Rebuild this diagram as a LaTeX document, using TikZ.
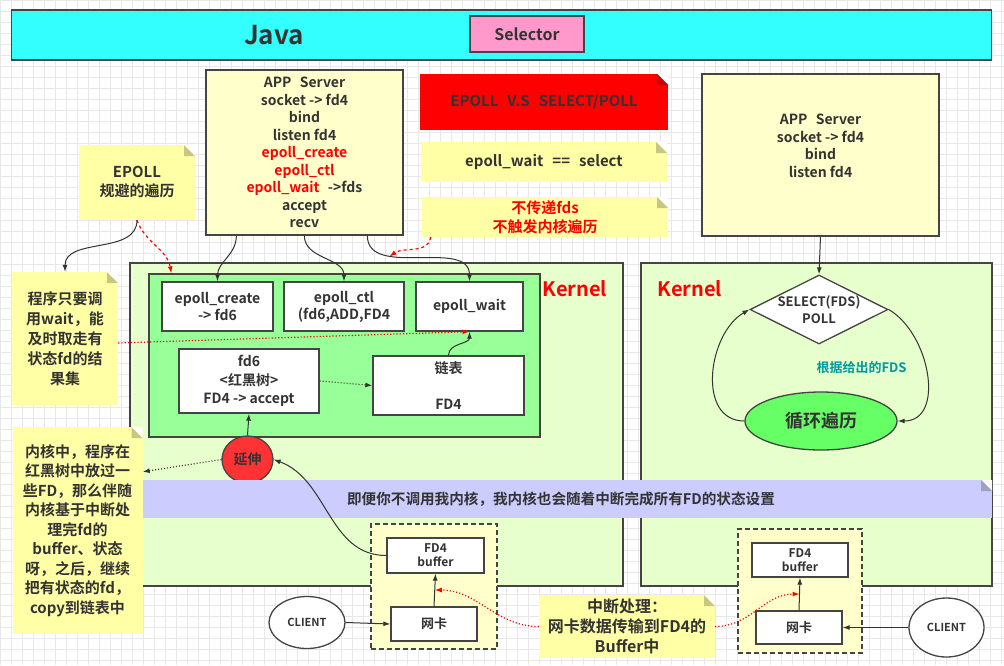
\documentclass[tikz,border=0pt]{standalone}
\usepackage{fontspec}
\setmainfont{Noto Sans CJK SC}[BoldFont={Noto Sans CJK SC Bold}]
\usepackage{tikz}
\usetikzlibrary{arrows.meta,shapes.geometric}
\definecolor{txt}{HTML}{333333}
\definecolor{edge}{HTML}{444444}
\definecolor{gridc}{HTML}{E8E8E8}
\definecolor{javacyan}{HTML}{33FFFF}
\definecolor{selpink}{HTML}{FF99CC}
\definecolor{appy}{HTML}{FFFFCC}
\definecolor{notey}{HTML}{FFFFA6}
\definecolor{notered}{HTML}{FF0000}
\definecolor{kerng}{HTML}{E6FFCC}
\definecolor{innerg}{HTML}{99FF99}
\definecolor{yanred}{HTML}{FF3333}
\definecolor{purp}{HTML}{CCCCFF}
\definecolor{loopg}{HTML}{66FF66}
\definecolor{teal}{HTML}{009999}
\newcommand{\fs}[2]{\fontsize{#1pt}{#2pt}\selectfont\bfseries}
\newcommand{\rd}[1]{{\color{red}#1}}
\newcommand{\gap}{\hspace{0.6em}}

\begin{document}
\begin{tikzpicture}[x=1pt,y=-1pt,>={Latex[length=7pt,width=5pt]},
  edgeline/.style={draw=edge, line width=1.3pt},
  box/.style={edgeline, fill=white, align=center, text=txt, inner sep=0pt, font=\fs{14}{17}},
  kernbox/.style={draw=edge, line width=1.5pt, fill=kerng, inner sep=0pt},
  dashbox/.style={draw=edge, line width=1.5pt, dash pattern=on 5pt off 3pt, fill=appy, inner sep=0pt},
  note/.style={fill=#1, align=center, text=txt, inner sep=0pt,
    path picture={
      \fill[white] (path picture bounding box.north east) -- ++(-11pt,0pt) -- ++(11pt,-11pt) -- cycle;
      \fill[#1!78!black] ([xshift=-11pt]path picture bounding box.north east) -- ++(11pt,-11pt) -- ++(-11pt,0pt) -- cycle;}},
  lbl/.style={text=txt, align=center, inner sep=0pt},
  conn/.style={->, draw=txt, line width=1pt},
  redconn/.style={->, draw=red, line width=1.2pt},
]
\useasboundingbox (0,0) rectangle (1004,665);
\fill[white] (0,0) rectangle (1004,665);
\draw[gridc, step=11pt, line width=0.6pt] (0,0) grid (1004,665); % background grid

% top bar
\node[edgeline, fill=javacyan, minimum width=980pt, minimum height=50pt] (javabar) at (501.75,35) {};
\node[lbl, font=\fs{26}{30}] (javatxt) at (274,35) {Java};
\node[box, fill=selpink, minimum width=114pt, minimum height=36pt, font=\fs{16}{20}] (sel) at (527,34) {Selector};

% application side
\node[box, fill=appy, minimum width=197pt, minimum height=165pt, font=\fs{14}{17.5}] (app) at (304.5,152.5)
  {APP\gap Server\\socket -> fd4\\bind\\listen fd4\\\rd{epoll\_create}\\\rd{epoll\_ctl}\\\rd{epoll\_wait}\gap ->fds\\accept\\recv};
\node[box, fill=appy, minimum width=237pt, minimum height=162pt] (appr) at (820.5,155) {};
\node[lbl, font=\fs{14}{17.5}] (apprtxt) at ([yshift=9pt]appr.center) {APP\gap Server\\socket -> fd4\\bind\\listen fd4};

% notes
\node[note=notered, minimum width=248pt, minimum height=56pt, font=\fs{15}{19}] (vsnote) at (544,102) {EPOLL\gap V.S\gap SELECT/POLL};
\node[note=notey, minimum width=246pt, minimum height=40pt, font=\fs{15}{19}] (eqnote) at (544,162) {epoll\_wait\gap ==\gap select};
\node[note=notey, minimum width=246pt, minimum height=40pt, font=\fs{15}{19}, text=red] (nofds) at (545,217) {不传递fds\\不触发内核遍历};
\node[note=notey, minimum width=116pt, minimum height=75pt, font=\fs{15}{19}] (epollnote) at (137,182.5) {EPOLL\\规避的遍历};
\node[note=notey, minimum width=106pt, minimum height=133pt, font=\fs{15}{20}] (prognote) at (65,338.5)
  {程序只要调\\用wait，能\\及时取走有\\状态fd的结\\果集};

% kernels
\node[kernbox, minimum width=493pt, minimum height=323pt] (kernl) at (376.5,424.5) {};
\node[kernbox, minimum width=351pt, minimum height=323pt] (kernr) at (816.5,424.5) {};
\node[lbl, text=red, font=\fs{20}{24}] (kernlt) at (575,289) {Kernel};
\node[lbl, text=red, font=\fs{20}{24}] (kernrt) at (690,289) {Kernel};
\node[note=notey, minimum width=130pt, minimum height=207pt, font=\fs{15}{19.5}] (kernnote) at (77.5,530.5)
  {内核中，程序在\\红黑树中放过一\\些FD，那么伴随\\内核基于中断处\\理完fd的\\buffer、状态\\呀，之后，继续\\把有状态的fd，\\copy到链表中};

% epoll inside kernel
\node[edgeline, fill=innerg, minimum width=391pt, minimum height=163pt] (inner) at (344.5,355.5) {};
\node[box, minimum width=111pt, minimum height=49pt] (create) at (217.5,306.5) {epoll\_create\\-> fd6};
\node[box, minimum width=120pt, minimum height=49pt] (ctl) at (344,306.5) {epoll\_ctl\\(fd6,ADD,FD4};
\node[box, minimum width=107pt, minimum height=49pt] (wait) at (469.5,306.5) {epoll\_wait};
\node[box, minimum width=140pt, minimum height=64pt, font=\fs{14}{18.5}] (fd6) at (249,381) {fd6\\<红黑树>\\FD4 -> accept};
\node[box, minimum width=151pt, minimum height=59pt, font=\fs{14}{36}] (list) at (448.5,385.5) {链表\\FD4};
\node[edgeline, ellipse, fill=yanred, minimum width=51pt, minimum height=47pt, inner sep=0pt, text=txt, font=\fs{14}{17}] (yan) at (247.5,459.5) {延伸};

% select inside kernel
\node[edgeline, diamond, fill=white, minimum width=138pt, minimum height=69pt, inner sep=0pt] (sel2) at (819,309.5) {};
\node[lbl, font=\fs{13}{17}] (sel2txt) at (819,309.5) {SELECT(FDS)\\POLL};
\node[edgeline, ellipse, fill=loopg, minimum width=152pt, minimum height=58pt, inner sep=0pt, text=txt, font=\fs{18}{22}] (loop) at (821,421) {循环遍历};
\node[lbl, text=teal, font=\fs{13}{16}] (fdstxt) at (861.5,368) {根据给出的FDS};

% band across both kernels
\node[note=purp, minimum width=849pt, minimum height=38pt] (band) at (567.5,499) {};
\node[lbl, font=\fs{14.6}{17}] (bandtxt) at (561,499) {即便你不调用我内核，我内核也会随着中断完成所有FD的状态设置};

% network card, left
\node[dashbox, minimum width=126pt, minimum height=125pt] (nbl) at (434,586.5) {};
\node[box, minimum width=97pt, minimum height=35pt, font=\fs{12}{14}] (bufl) at (435.5,555.5) {FD4\\buffer};
\node[box, minimum width=86pt, minimum height=34pt, font=\fs{13}{16}] (nicl) at (434,624) {网卡};
\node[edgeline, ellipse, fill=white, minimum width=76pt, minimum height=52pt, inner sep=0pt, text=txt, font=\fs{11}{13}] (clientl) at (307,622.5) {CLIENT};

% network card, right
\node[dashbox, minimum width=124pt, minimum height=124pt] (nbr) at (800,591) {};
\node[box, minimum width=96pt, minimum height=34pt, font=\fs{12}{14}] (bufr) at (800,560) {FD4\\buffer};
\node[box, minimum width=86pt, minimum height=33pt, font=\fs{13}{16}] (nicr) at (799,627.5) {网卡};
\node[edgeline, ellipse, fill=white, minimum width=75pt, minimum height=59pt, inner sep=0pt, text=txt, font=\fs{11}{13}] (clientr) at (946.5,627.5) {CLIENT};

\node[note=notey, minimum width=176pt, minimum height=63pt, font=\fs{16}{20}] (intnote) at (627,626.5)
  {中断处理：\\网卡数据传输到FD4的\\Buffer中};

% connectors, left
\draw[conn] ([xshift=31pt]app.south west) to[out=-90,in=90] (create.north);
\draw[conn] ([xshift=99pt]app.south west) to[out=-90,in=90] (ctl.north);
\draw[conn] ([xshift=162pt]app.south west) to[out=-90,in=90] coordinate[pos=0.3] (wm) (wait.north);
\draw[redconn, dashed] ([xshift=9pt]nofds.south west) to[out=-100,in=35] (wm);
\draw[conn] (epollnote.south) to[out=-90,in=90] (prognote.north);
\draw[redconn, dashed] (epollnote.south) to[out=-70,in=100] ([xshift=23pt]inner.north west);
\draw[redconn, dotted] ([yshift=-4.5pt]prognote.east) -- (wait.south);
\draw[conn, dotted, line width=1.2pt] (fd6.east) -- (list.west);
\draw[conn] (list.north) to[out=90,in=-90] (wait.south);
\draw[conn] (yan.north) -- (fd6.south);
\draw[conn, dotted, line width=1.2pt] (yan.west) -- ([yshift=-45pt]kernnote.north east);
\draw[conn] (bufl.west) to[out=180,in=-20] (yan.east);
\draw[conn] (clientl.east) -- (nicl.west);
\draw[conn] (nicl.north) -- coordinate[pos=0.5] (ml) (bufl.south);
\draw[redconn, dotted] (intnote.west) to[out=180,in=0] (ml);

% connectors, right
\draw[conn] (appr.south) -- (sel2.north);
\draw[conn] (loop.west) to[out=180,in=210,looseness=1.1] (sel2.west);
\draw[conn] (sel2.east) to[out=-30,in=0,looseness=1.1] (loop.east);
\draw[conn] (clientr.west) -- (nicr.east);
\draw[conn] (nicr.north) -- coordinate[pos=0.5] (mr) (bufr.south);
\draw[redconn, dotted] (intnote.east) to[out=0,in=180] (mr);
\end{tikzpicture}
\end{document}
